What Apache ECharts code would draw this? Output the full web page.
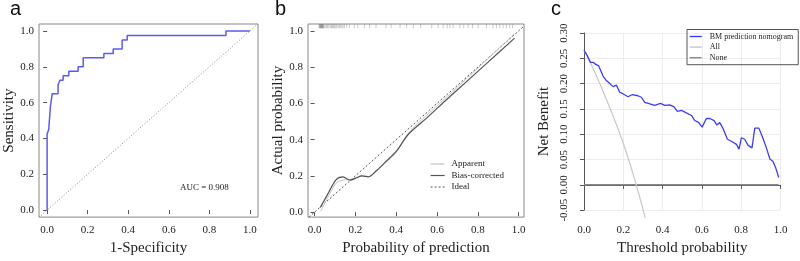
<!DOCTYPE html>
<html>
<head>
<meta charset="utf-8">
<script src="https://cdn.jsdelivr.net/npm/echarts@6/dist/echarts.min.js"></script>
<style>
html, body { margin: 0; padding: 0; background: #fff; }
#chart { width: 800px; height: 261px; }
</style>
</head>
<body>
<div id="chart"></div>
<script>
// panel a: ROC curve (step corners)
var rocFpr = [0, 0, 0.008, 0.008, 0.016, 0.016, 0.025, 0.025, 0.054, 0.054, 0.063, 0.063, 0.079, 0.079, 0.107, 0.107,
  0.153, 0.153, 0.178, 0.178, 0.280, 0.280, 0.326, 0.326, 0.370, 0.370, 0.395, 0.395, 0.882, 0.882, 1]
var rocTpr = [0, 0.425, 0.425, 0.45, 0.45, 0.575, 0.575, 0.65, 0.65, 0.70, 0.70, 0.725, 0.725, 0.75, 0.75, 0.775,
  0.775, 0.80, 0.80, 0.85, 0.85, 0.875, 0.875, 0.90, 0.90, 0.95, 0.95, 0.975, 0.975, 1, 1]
var aucText = 'AUC = 0.908'

// panel b: calibration
var biasX = [0.028, 0.06, 0.106, 0.139, 0.174, 0.207, 0.231, 0.264, 0.305, 0.35, 0.40, 0.46, 0.55, 0.65, 0.75, 0.85, 0.98]
var biasY = [0.026, 0.09, 0.18, 0.195, 0.177, 0.19, 0.20, 0.195, 0.231, 0.28, 0.335, 0.43, 0.52, 0.624, 0.726, 0.828, 0.96]
var appX = [0.03, 0.06, 0.106, 0.14, 0.174, 0.207, 0.231, 0.264, 0.305, 0.35, 0.40, 0.46, 0.55, 0.65, 0.75, 0.85, 0.98]
var appY = [0.005, 0.07, 0.16, 0.177, 0.18, 0.192, 0.20, 0.197, 0.228, 0.275, 0.33, 0.437, 0.535, 0.638, 0.742, 0.848, 0.985]
var rugX = [0.022, 0.025, 0.027, 0.029, 0.031, 0.033, 0.035, 0.037, 0.039, 0.041, 0.043, 0.046, 0.052, 0.058, 0.064,
  0.070, 0.077, 0.083, 0.088, 0.093, 0.098, 0.104, 0.109, 0.116, 0.122, 0.128, 0.134, 0.140, 0.147, 0.158, 0.171,
  0.195, 0.212, 0.244, 0.269, 0.301, 0.350, 0.375, 0.419, 0.451, 0.484, 0.52, 0.574, 0.606, 0.63, 0.65, 0.663,
  0.679, 0.712, 0.731, 0.752, 0.774, 0.801, 0.842, 0.874, 0.891, 0.907, 0.923, 0.94, 0.956, 0.97]

// panel c: decision curve
var thr = [0, 0.017, 0.033, 0.046, 0.06, 0.075, 0.097, 0.114, 0.131, 0.148, 0.165, 0.173, 0.182, 0.207, 0.224,
  0.244, 0.275, 0.292, 0.309, 0.335, 0.36, 0.39, 0.411, 0.436, 0.458, 0.475, 0.496, 0.521, 0.547, 0.564, 0.584,
  0.601, 0.623, 0.64, 0.662, 0.676, 0.691, 0.708, 0.73, 0.75, 0.776, 0.789, 0.801, 0.818, 0.835, 0.855, 0.869,
  0.89, 0.911, 0.929, 0.946, 0.962, 0.976, 0.991]
var nbModel = [0.266, 0.255, 0.242, 0.242, 0.238, 0.235, 0.215, 0.206, 0.20, 0.194, 0.197, 0.196, 0.183, 0.178, 0.174,
  0.178, 0.176, 0.173, 0.163, 0.16, 0.157, 0.161, 0.157, 0.158, 0.154, 0.145, 0.147, 0.142, 0.137, 0.127, 0.123,
  0.114, 0.131, 0.131, 0.127, 0.118, 0.123, 0.111, 0.09, 0.086, 0.080, 0.0705, 0.093, 0.09, 0.078, 0.073, 0.112,
  0.112, 0.0915, 0.072, 0.051, 0.046, 0.033, 0.0145]
var allThr = [0, 0.05, 0.1, 0.15, 0.2, 0.25, 0.3, 0.312]
var nbAll = [0.266, 0.227, 0.182, 0.134, 0.082, 0.021, -0.048, -0.066]
var noneThr = [0, 0.99]
var nbNone = [0, 0]

var probTicks = [0, 0.2, 0.4, 0.6, 0.8, 1.0]

var serif = '"Liberation Serif", "Times New Roman", serif'
var sans = '"Liberation Sans", Arial, sans-serif'

function pairs (xs, ys) {
  return xs.map(function (x, i) { return [x, ys[i]] })
}

function boxAxis (grid, min, max, name, gap, isY) {
  return {
    type: 'value',
    gridIndex: grid,
    min: min,
    max: max,
    axisLine: { show: false },
    axisTick: { show: true, length: 4, customValues: probTicks, lineStyle: { color: '#555' } },
    axisLabel: {
      customValues: probTicks,
      formatter: function (v) { return v.toFixed(1) },
      margin: isY ? 5 : 8,
      color: '#222',
      fontFamily: serif,
      fontSize: 11
    },
    splitLine: { show: false },
    name: name,
    nameLocation: 'middle',
    nameGap: gap,
    nameTextStyle: { fontFamily: serif, fontSize: 15, color: '#222' }
  }
}

var chart = echarts.init(document.getElementById('chart'))
chart.setOption({
  animation: false,
  backgroundColor: '#fff',
  grid: [
    { left: 39, top: 24, width: 219, height: 195, show: true, borderColor: '#888', borderWidth: 1, backgroundColor: 'transparent' },
    { left: 308, top: 24, width: 216, height: 195, show: true, borderColor: '#888', borderWidth: 1, backgroundColor: 'transparent' },
    { left: 584, top: 33, width: 196.5, height: 179 }
  ],
  xAxis: [
    boxAxis(0, -0.04, 1.04, '1-Specificity', 22, false),
    boxAxis(1, -0.032, 1.026, 'Probability of prediction', 22, false),
    {
      type: 'value',
      gridIndex: 2,
      min: 0,
      max: 1,
      interval: 0.2,
      offset: 8,
      axisLine: { show: true, lineStyle: { color: '#555' } },
      axisTick: { show: true, length: 4, lineStyle: { color: '#555' } },
      axisLabel: { formatter: function (v) { return v.toFixed(1) }, margin: 7, color: '#222', fontFamily: serif, fontSize: 11 },
      splitLine: { show: true, lineStyle: { color: '#ededed' } },
      name: 'Threshold probability',
      nameLocation: 'middle',
      nameGap: 22,
      nameTextStyle: { fontFamily: serif, fontSize: 15, color: '#222' }
    }
  ],
  yAxis: [
    boxAxis(0, -0.039, 1.039, 'Sensitivity', 22, true),
    boxAxis(1, -0.027, 1.038, 'Actual probability', 22, true),
    {
      type: 'value',
      gridIndex: 2,
      min: -0.05,
      max: 0.30,
      interval: 0.05,
      offset: 8,
      axisLine: { show: true, lineStyle: { color: '#555' } },
      axisTick: { show: true, length: 4, lineStyle: { color: '#555' } },
      axisLabel: { formatter: function (v) { return v.toFixed(2) }, rotate: 90, margin: 6, color: '#222', fontFamily: serif, fontSize: 11 },
      splitLine: { show: true, lineStyle: { color: '#ededed' } },
      name: 'Net Benefit',
      nameLocation: 'middle',
      nameGap: 24,
      nameTextStyle: { fontFamily: serif, fontSize: 15, color: '#222' }
    }
  ],
  legend: [
    {
      data: ['Apparent', 'Bias-corrected', 'Ideal'],
      orient: 'vertical',
      left: 430,
      top: 159.5,
      itemWidth: 14,
      itemHeight: 7,
      itemGap: 2.5,
      padding: 0,
      itemStyle: { opacity: 0 },
      lineStyle: { width: 1.2 },
      textStyle: { fontFamily: serif, fontSize: 9, lineHeight: 9, color: '#222', padding: [0, 0, 0, 2] }
    },
    {
      data: ['BM prediction nomogram', 'All', 'None'],
      orient: 'vertical',
      left: 687,
      top: 29.5,
      itemWidth: 12,
      itemHeight: 7,
      itemGap: 2.6,
      padding: [3, 5, 3, 2],
      borderColor: '#555',
      borderWidth: 1,
      borderRadius: 0,
      itemStyle: { opacity: 0 },
      lineStyle: { width: 1.4 },
      textStyle: { fontFamily: serif, fontSize: 8, lineHeight: 8, color: '#222', padding: [0, 0, 0, 3] }
    }
  ],
  graphic: [
    { type: 'text', left: 10, top: -1, style: { text: 'a', font: '20px ' + sans, fill: '#111' } },
    { type: 'text', left: 275, top: -1, style: { text: 'b', font: '20px ' + sans, fill: '#111' } },
    { type: 'text', left: 551, top: -1, style: { text: 'c', font: '20px ' + sans, fill: '#111' } },
    { type: 'text', left: 180, top: 183, style: { text: aucText, font: '9px ' + serif, fill: '#222' } }
  ],
  series: [
    {
      name: 'diag',
      type: 'line',
      xAxisIndex: 0,
      yAxisIndex: 0,
      symbol: 'none',
      data: [[-0.04, -0.04], [1.04, 1.04]],
      lineStyle: { color: '#888', width: 1, type: [1, 2] }
    },
    {
      name: 'ROC',
      type: 'line',
      xAxisIndex: 0,
      yAxisIndex: 0,
      symbol: 'none',
      data: pairs(rocFpr, rocTpr),
      lineStyle: { color: '#5b5bf0', width: 1.5 }
    },
    {
      name: 'Ideal',
      type: 'line',
      xAxisIndex: 1,
      yAxisIndex: 1,
      symbol: 'none',
      data: [[-0.027, -0.027], [1.026, 1.026]],
      itemStyle: { color: '#555' },
      lineStyle: { color: '#555', width: 1, type: [2, 2] }
    },
    {
      name: 'Apparent',
      type: 'line',
      xAxisIndex: 1,
      yAxisIndex: 1,
      symbol: 'none',
      smooth: 0.3,
      data: pairs(appX, appY),
      itemStyle: { color: '#c4c4c4' },
      lineStyle: { color: '#c4c4c4', width: 1 }
    },
    {
      name: 'Bias-corrected',
      type: 'line',
      xAxisIndex: 1,
      yAxisIndex: 1,
      symbol: 'none',
      smooth: 0.3,
      data: pairs(biasX, biasY),
      itemStyle: { color: '#555' },
      lineStyle: { color: '#555', width: 1.2 }
    },
    {
      name: 'rug',
      type: 'scatter',
      xAxisIndex: 1,
      yAxisIndex: 1,
      symbol: 'rect',
      symbolSize: [1, 4],
      data: rugX.map(function (x) { return [x, 1.025] }),
      itemStyle: { color: 'rgba(70,70,70,0.35)' }
    },
    {
      name: 'None',
      type: 'line',
      xAxisIndex: 2,
      yAxisIndex: 2,
      symbol: 'none',
      data: pairs(noneThr, nbNone),
      itemStyle: { color: '#888' },
      lineStyle: { color: '#888', width: 1.5 }
    },
    {
      name: 'All',
      type: 'line',
      xAxisIndex: 2,
      yAxisIndex: 2,
      symbol: 'none',
      smooth: 0.3,
      clip: false,
      data: pairs(allThr, nbAll),
      itemStyle: { color: '#c8c8c8' },
      lineStyle: { color: '#c8c8c8', width: 1.2 }
    },
    {
      name: 'BM prediction nomogram',
      type: 'line',
      xAxisIndex: 2,
      yAxisIndex: 2,
      symbol: 'none',
      data: pairs(thr, nbModel),
      itemStyle: { color: '#3d3df2' },
      lineStyle: { color: '#3d3df2', width: 1.3 }
    }
  ]
})
</script>
</body>
</html>
